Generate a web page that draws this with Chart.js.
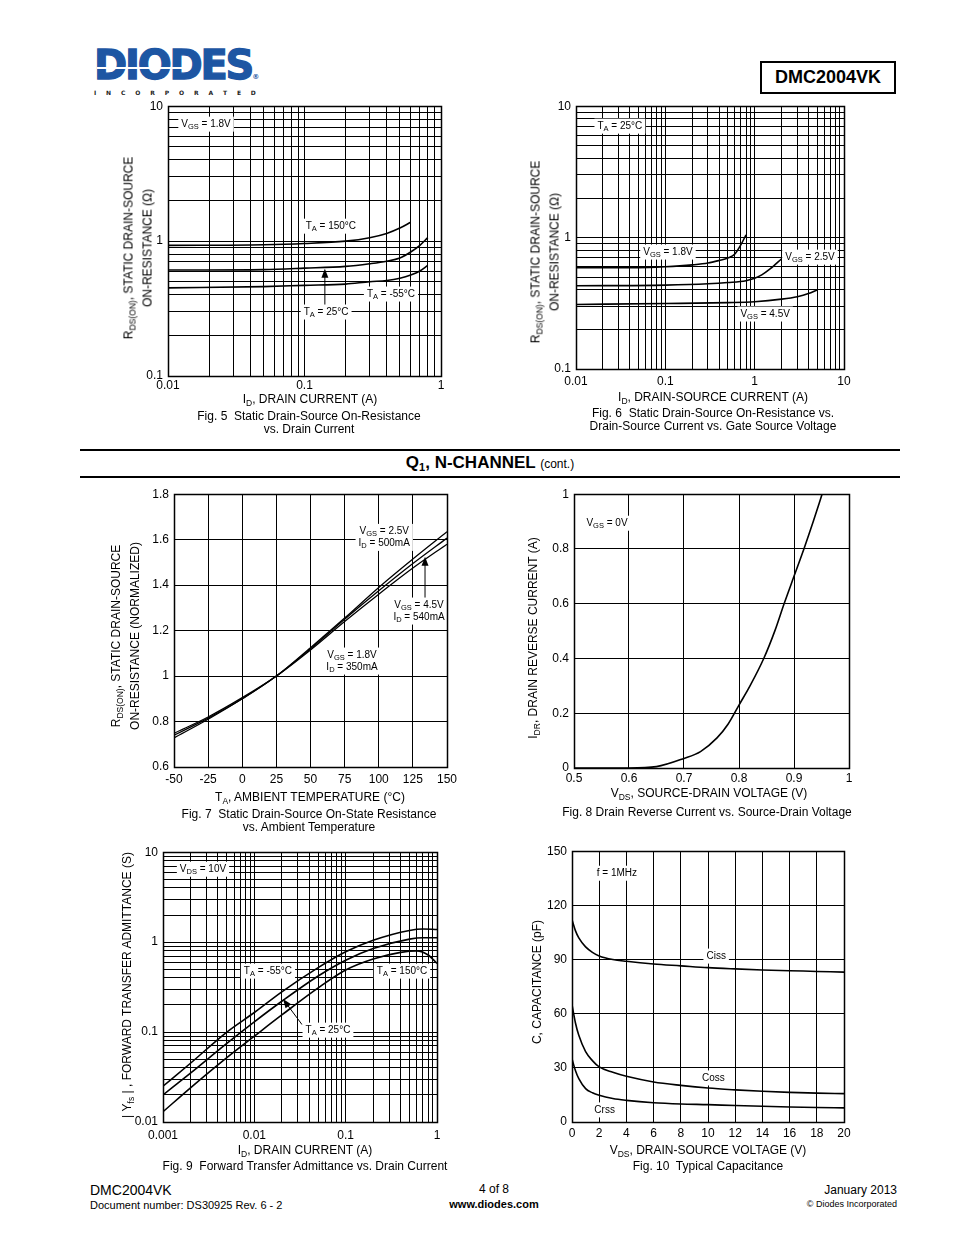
<!DOCTYPE html>
<html>
<head>
<meta charset="utf-8">
<script src="https://cdn.jsdelivr.net/npm/chart.js@4.4.1/dist/chart.umd.min.js"></script>
<style>
body{margin:0;background:#fff;}
#page{position:relative;width:954px;height:1235px;font-family:"Liberation Sans",Arial,sans-serif;color:#000;overflow:hidden;background:#fff}
.t{position:absolute;white-space:nowrap;transform:translate(-50%,-50%);font-size:12px;line-height:14px;text-align:center}
.r{transform:translate(-50%,-50%) rotate(-90deg);line-height:18px}
.s{font-size:8.5px;position:relative;top:3px}
canvas{position:absolute}
.hr{position:absolute;left:80px;width:820px;height:2px;background:#000}
</style>
</head>
<body>
<div id="page">
  <div style="position:absolute;left:94px;top:45px;font:bold 40px/1 'DejaVu Sans',sans-serif;color:#1d56a3;letter-spacing:-2.2px;-webkit-text-stroke:1.3px #1d56a3">DIODES<span style="font-size:7px;letter-spacing:0;-webkit-text-stroke:0">&reg;</span></div>
  <div style="position:absolute;left:97px;top:67px;width:92px;height:2px;background:#fff"></div>
  <div style="position:absolute;left:94px;top:89px;width:162px;display:flex;justify-content:space-between;font:bold 6px 'DejaVu Sans',sans-serif;color:#222">
    <span>I</span><span>N</span><span>C</span><span>O</span><span>R</span><span>P</span><span>O</span><span>R</span><span>A</span><span>T</span><span>E</span><span>D</span>
  </div>
  <div style="position:absolute;left:760px;top:61px;width:132px;height:29px;border:2px solid #000;font:bold 18px/29px 'Liberation Sans',Arial;text-align:center">DMC2004VK</div>

  <div class="hr" style="top:449px"></div>
  <div class="t" style="left:490px;top:463px;font-size:17px;font-weight:bold">Q<span class="s" style="font-size:11px">1</span>, N-CHANNEL <span style="font-size:12px;font-weight:normal">(cont.)</span></div>
  <div class="hr" style="top:476px"></div>

  <canvas id="fig5"></canvas>
  <canvas id="fig6"></canvas>
  <canvas id="fig7"></canvas>
  <canvas id="fig8"></canvas>
  <canvas id="fig9"></canvas>
  <canvas id="fig10"></canvas>

  <!-- Fig 5 texts -->
  <div class="t r" style="left:138px;top:248px">R<span class="s">DS(ON)</span>, STATIC DRAIN-SOURCE<br>ON-RESISTANCE (&Omega;)</div>
  <div class="t" style="left:310px;top:399px">I<span class="s">D</span>, DRAIN CURRENT (A)</div>
  <div class="t" style="left:309px;top:423px;line-height:13px">Fig. 5&nbsp; Static Drain-Source On-Resistance<br>vs. Drain Current</div>

  <!-- Fig 6 texts -->
  <div class="t r" style="left:545px;top:252px">R<span class="s">DS(ON)</span>, STATIC DRAIN-SOURCE<br>ON-RESISTANCE (&Omega;)</div>
  <div class="t" style="left:713px;top:397px">I<span class="s">D</span>, DRAIN-SOURCE CURRENT (A)</div>
  <div class="t" style="left:713px;top:420px;line-height:13px">Fig. 6&nbsp; Static Drain-Source On-Resistance vs.<br>Drain-Source Current vs. Gate Source Voltage</div>

  <!-- Fig 7 texts -->
  <div class="t r" style="left:125px;top:636px">R<span class="s">DS(ON)</span>, STATIC DRAIN-SOURCE<br>ON-RESISTANCE (NORMALIZED)</div>
  <div class="t" style="left:310px;top:797px">T<span class="s">A</span>, AMBIENT TEMPERATURE (&deg;C)</div>
  <div class="t" style="left:309px;top:821px;line-height:13px">Fig. 7&nbsp; Static Drain-Source On-State Resistance<br>vs. Ambient Temperature</div>

  <!-- Fig 8 texts -->
  <div class="t r" style="left:533px;top:638px">I<span class="s">DR</span>, DRAIN REVERSE CURRENT (A)</div>
  <div class="t" style="left:709px;top:793px">V<span class="s">DS</span>, SOURCE-DRAIN VOLTAGE (V)</div>
  <div class="t" style="left:707px;top:812px">Fig. 8 Drain Reverse Current vs. Source-Drain Voltage</div>

  <!-- Fig 9 texts -->
  <div class="t r" style="left:127px;top:985px">|&nbsp;Y<span class="s">fs</span>&nbsp;|&nbsp;, FORWARD TRANSFER ADMITTANCE (S)</div>
  <div class="t" style="left:305px;top:1150px">I<span class="s">D</span>, DRAIN CURRENT (A)</div>
  <div class="t" style="left:305px;top:1166px">Fig. 9&nbsp; Forward Transfer Admittance vs. Drain Current</div>

  <!-- Fig 10 texts -->
  <div class="t r" style="left:537px;top:982px">C, CAPACITANCE (pF)</div>
  <div class="t" style="left:708px;top:1150px">V<span class="s">DS</span>, DRAIN-SOURCE VOLTAGE (V)</div>
  <div class="t" style="left:708px;top:1166px">Fig. 10&nbsp; Typical Capacitance</div>

  <!-- footer -->
  <div style="position:absolute;left:90px;top:1182px;font-size:14px">DMC2004VK</div>
  <div style="position:absolute;left:90px;top:1199px;font-size:11px">Document number: DS30925 Rev. 6 - 2</div>
  <div class="t" style="left:494px;top:1189px;font-size:12px">4 of 8</div>
  <div class="t" style="left:494px;top:1204px;font-size:11px;font-weight:bold">www.diodes.com</div>
  <div style="position:absolute;right:57px;top:1183px;font-size:12px">January 2013</div>
  <div style="position:absolute;right:57px;top:1199px;font-size:9px">&copy; Diodes Incorporated</div>
</div>

<script>
var FONT = '"Liberation Sans", Arial, sans-serif';

/* Fig 5 : RDS(ON) vs ID, VGS = 1.8V */
var f5X150 = [0.01, 0.05, 0.1, 0.2, 0.3, 0.4, 0.5, 0.6];
var f5Y150 = [0.93, 0.94, 0.96, 1.0, 1.06, 1.14, 1.25, 1.38];
var f5X25 = [0.01, 0.05, 0.1, 0.2, 0.3, 0.4, 0.5, 0.6, 0.7, 0.8];
var f5Y25 = [0.61, 0.615, 0.63, 0.65, 0.68, 0.71, 0.75, 0.83, 0.93, 1.06];
var f5XM55 = [0.01, 0.05, 0.1, 0.2, 0.3, 0.4, 0.5, 0.6, 0.7, 0.8];
var f5YM55 = [0.45, 0.46, 0.47, 0.48, 0.50, 0.51, 0.53, 0.56, 0.60, 0.66];
var f5XTicks = [0.01, 0.1, 1];
var f5YTicks = [0.1, 1, 10];

/* Fig 6 : RDS(ON) vs ID at VGS */
var f6X18 = [0.01, 0.05, 0.1, 0.2, 0.3, 0.4, 0.5, 0.6, 0.7, 0.8];
var f6Y18 = [0.59, 0.59, 0.6, 0.62, 0.64, 0.67, 0.7, 0.75, 0.88, 1.05];
var f6X25 = [0.01, 0.1, 0.3, 0.5, 0.8, 1, 1.2, 1.5, 2];
var f6Y25 = [0.43, 0.435, 0.445, 0.455, 0.47, 0.49, 0.52, 0.58, 0.69];
var f6X45 = [0.01, 0.1, 0.5, 1, 2, 3, 4, 5];
var f6Y45 = [0.31, 0.315, 0.32, 0.325, 0.34, 0.355, 0.375, 0.4];
var f6XTicks = [0.01, 0.1, 1, 10];
var f6YTicks = [0.1, 1, 10];

/* Fig 7 : normalized RDS(ON) vs TA */
var f7X = [-50, -25, 0, 25, 50, 75, 100, 125, 150];
var f7Y25V = [0.728, 0.81, 0.9, 1.0, 1.125, 1.255, 1.39, 1.515, 1.635];
var f7Y45V = [0.74, 0.815, 0.9, 1.0, 1.12, 1.25, 1.375, 1.495, 1.607];
var f7Y18V = [0.748, 0.82, 0.905, 1.0, 1.115, 1.24, 1.36, 1.475, 1.58];
var f7XTicks = [-50, -25, 0, 25, 50, 75, 100, 125, 150];
var f7YTicks = [0.6, 0.8, 1, 1.2, 1.4, 1.6, 1.8];

/* Fig 8 : IDR vs VSD */
var f8X = [0.5, 0.6, 0.65, 0.7, 0.73, 0.76, 0.78, 0.8, 0.82, 0.845, 0.865, 0.882, 0.9, 0.918, 0.935, 0.951];
var f8Y = [0, 0, 0.005, 0.035, 0.06, 0.11, 0.16, 0.23, 0.3, 0.4, 0.5, 0.6, 0.7, 0.8, 0.9, 1.0];
var f8XTicks = [0.5, 0.6, 0.7, 0.8, 0.9, 1];
var f8YTicks = [0, 0.2, 0.4, 0.6, 0.8, 1];

/* Fig 9 : |Yfs| vs ID */
var f9X = [0.001, 0.002, 0.005, 0.01, 0.02, 0.05, 0.1, 0.2, 0.5, 0.7, 1];
var f9YM55 = [0.025, 0.045, 0.1, 0.165, 0.28, 0.52, 0.78, 1.05, 1.35, 1.4, 1.38];
var f9Y25 = [0.02, 0.035, 0.075, 0.13, 0.22, 0.42, 0.63, 0.85, 1.08, 1.12, 1.12];
var f9X150 = [0.001, 0.002, 0.005, 0.01, 0.02, 0.05, 0.1, 0.2, 0.4, 0.6, 0.8, 1];
var f9Y150 = [0.013, 0.024, 0.052, 0.09, 0.155, 0.31, 0.49, 0.65, 0.77, 0.8, 0.72, 0.58];
var f9XTicks = [0.001, 0.01, 0.1, 1];
var f9YTicks = [0.01, 0.1, 1, 10];

/* Fig 10 : capacitance vs VDS */
var f10X = [0, 0.25, 0.5, 1, 1.5, 2, 3, 4, 6, 8, 10, 12, 14, 16, 18, 20];
var f10Ciss = [112, 106, 102, 97, 94, 92, 90, 89, 87.5, 86.5, 85.5, 84.8, 84.2, 83.8, 83.4, 83];
var f10Coss = [65, 55, 48, 39, 34, 30.5, 27.5, 25.3, 22.2, 20.3, 18.8, 17.8, 17, 16.4, 16, 15.7];
var f10Crss = [35, 28.5, 24, 18.5, 16.2, 14.8, 13, 12, 10.7, 10, 9.6, 9.1, 8.7, 8.3, 8, 7.8];
var f10XTicks = [0, 2, 4, 6, 8, 10, 12, 14, 16, 18, 20];
var f10YTicks = [0, 30, 60, 90, 120, 150];

// gridlines 1..9 per decade for log axes
function logGrid(min, max) {
  var out = [];
  for (var e = Math.round(Math.log10(min)); e < Math.round(Math.log10(max)); e++) {
    var p = Math.pow(10, e);
    for (var k = 1; k <= 9; k++) out.push(+(k * p).toPrecision(6));
  }
  out.push(max);
  return out;
}

function isLabel(v, labels) {
  return labels.some(function (l) { return l === v || Math.abs(l - v) < Math.abs(l) * 1e-6; });
}

function axis(type, labels, pos, size, pad) {
  var min = labels[0], max = labels[labels.length - 1];
  return {
    type: type, min: min, max: max, position: pos,
    grid: { color: '#000', lineWidth: 1, drawTicks: false },
    border: { display: false },
    ticks: {
      autoSkip: false, maxRotation: 0, color: '#000', padding: pad,
      font: { family: FONT, size: 12 },
      callback: function (v) { return isLabel(v, labels) ? String(+v.toPrecision(6)) : ''; }
    },
    afterBuildTicks: function (s) {
      var vals = type === 'logarithmic' ? logGrid(min, max) : labels;
      s.ticks = vals.map(function (v) { return { value: v }; });
    },
    afterFit: function (s) {
      if (pos === 'left') s.width = size; else s.height = size;
    }
  };
}

// split "V_{GS} = 1.8V" into [text, isSub] parts
function parts(str) {
  var out = [], re = /_\{([^}]*)\}/g, last = 0, m;
  while ((m = re.exec(str))) {
    if (m.index > last) out.push([str.slice(last, m.index), 0]);
    out.push([m[1], 1]);
    last = re.lastIndex;
  }
  if (last < str.length) out.push([str.slice(last), 0]);
  return out;
}

function partFont(sub) { return (sub ? '7.5px ' : '10px ') + FONT; }

var notesPlugin = {
  id: 'notes',
  afterDatasetsDraw: function (chart, args, opts) {
    var ctx = chart.ctx, xs = chart.scales.x, ys = chart.scales.y;
    ctx.save();
    (opts.arrows || []).forEach(function (a) {
      var x1 = xs.getPixelForValue(a.x1), y1 = ys.getPixelForValue(a.y1);
      var x2 = xs.getPixelForValue(a.x2), y2 = ys.getPixelForValue(a.y2);
      var ang = Math.atan2(y2 - y1, x2 - x1);
      ctx.strokeStyle = '#000'; ctx.fillStyle = '#000'; ctx.lineWidth = 1;
      ctx.beginPath(); ctx.moveTo(x1, y1); ctx.lineTo(x2 - 6 * Math.cos(ang), y2 - 6 * Math.sin(ang)); ctx.stroke();
      ctx.beginPath();
      ctx.moveTo(x2, y2);
      ctx.lineTo(x2 - 9 * Math.cos(ang) + 3.5 * Math.sin(ang), y2 - 9 * Math.sin(ang) - 3.5 * Math.cos(ang));
      ctx.lineTo(x2 - 9 * Math.cos(ang) - 3.5 * Math.sin(ang), y2 - 9 * Math.sin(ang) + 3.5 * Math.cos(ang));
      ctx.closePath(); ctx.fill();
    });
    (opts.labels || []).forEach(function (l) {
      var cx = xs.getPixelForValue(l.x), cy = ys.getPixelForValue(l.y);
      var lines = l.text.map(parts);
      var widths = lines.map(function (ps) {
        return ps.reduce(function (w, p) { ctx.font = partFont(p[1]); return w + ctx.measureText(p[0]).width; }, 0);
      });
      var lh = 12, bw = Math.max.apply(null, widths) + 6, bh = lines.length * lh + 3;
      ctx.fillStyle = '#fff';
      ctx.fillRect(cx - bw / 2, cy - bh / 2, bw, bh);
      ctx.fillStyle = '#000'; ctx.textBaseline = 'middle'; ctx.textAlign = 'left';
      lines.forEach(function (ps, i) {
        var x = cx - widths[i] / 2, y = cy - bh / 2 + 1.5 + lh * i + lh / 2;
        ps.forEach(function (p) {
          ctx.font = partFont(p[1]);
          ctx.fillText(p[0], x, p[1] ? y + 3 : y);
          x += ctx.measureText(p[0]).width;
        });
      });
    });
    ctx.restore();
  }
};

var framePlugin = {
  id: 'frame',
  afterDraw: function (chart) {
    var a = chart.chartArea, ctx = chart.ctx;
    ctx.save();
    ctx.strokeStyle = '#000'; ctx.lineWidth = 1.5;
    ctx.strokeRect(Math.round(a.left) + 0.5, Math.round(a.top) + 0.5, Math.round(a.right - a.left), Math.round(a.bottom - a.top));
    ctx.restore();
  }
};

function series(xs, ys, w) {
  return {
    data: xs.map(function (x, i) { return { x: x, y: ys[i] }; }),
    borderColor: '#000', borderWidth: w || 1.6, pointRadius: 0, fill: false,
    cubicInterpolationMode: 'monotone'
  };
}

function plot(id, rect, xType, xTicks, yType, yTicks, padX, sets, notes) {
  var cv = document.getElementById(id);
  var L = rect[0], T = rect[1], R = rect[2], B = rect[3];
  cv.width = R - L + 45 + 18;
  cv.height = B - T + 12 + 24;
  cv.style.left = (L - 45) + 'px';
  cv.style.top = (T - 12) + 'px';
  return new Chart(cv, {
    type: 'line',
    data: { datasets: sets },
    options: {
      responsive: false, animation: false,
      layout: { padding: { left: 0, top: 12, right: 18, bottom: 0 } },
      plugins: { legend: { display: false }, tooltip: { enabled: false }, notes: notes },
      scales: {
        x: axis(xType, xTicks, 'bottom', 24, padX),
        y: axis(yType, yTicks, 'left', 45, 5)
      }
    },
    plugins: [notesPlugin, framePlugin]
  });
}

plot('fig5', [168, 106, 441, 376], 'logarithmic', f5XTicks, 'logarithmic', f5YTicks, 2,
  [series(f5X150, f5Y150), series(f5X25, f5Y25), series(f5XM55, f5YM55)],
  {
    labels: [
      { x: 0.019, y: 7.36, text: ['V_{GS} = 1.8V'] },
      { x: 0.156, y: 1.29, text: ['T_{A} = 150\u00B0C'] },
      { x: 0.43, y: 0.405, text: ['T_{A} = -55\u00B0C'] },
      { x: 0.144, y: 0.298, text: ['T_{A} = 25\u00B0C'] }
    ],
    arrows: [{ x1: 0.141, y1: 0.33, x2: 0.141, y2: 0.625 }]
  });

plot('fig6', [576, 106, 844, 369], 'logarithmic', f6XTicks, 'logarithmic', f6YTicks, 5,
  [series(f6X18, f6Y18), series(f6X25, f6Y25), series(f6X45, f6Y45)],
  {
    labels: [
      { x: 0.031, y: 7.05, text: ['T_{A} = 25\u00B0C'] },
      { x: 0.107, y: 0.776, text: ['V_{GS} = 1.8V'] },
      { x: 4.16, y: 0.71, text: ['V_{GS} = 2.5V'] },
      { x: 1.31, y: 0.262, text: ['V_{GS} = 4.5V'] }
    ]
  });

plot('fig7', [174, 494, 447, 767], 'linear', f7XTicks, 'linear', f7YTicks, 5,
  [series(f7X, f7Y25V, 1.3), series(f7X, f7Y45V, 1.3), series(f7X, f7Y18V, 1.3)],
  {
    labels: [
      { x: 104, y: 1.61, text: ['V_{GS} = 2.5V', 'I_{D} = 500mA'] },
      { x: 129.5, y: 1.286, text: ['V_{GS} = 4.5V', 'I_{D} = 540mA'] },
      { x: 80.4, y: 1.066, text: ['V_{GS} = 1.8V', 'I_{D} = 350mA'] }
    ],
    arrows: [{ x1: 133.9, y1: 1.334, x2: 133.9, y2: 1.525 }]
  });

plot('fig8', [574, 494, 849, 768], 'linear', f8XTicks, 'linear', f8YTicks, 3,
  [series(f8X, f8Y)],
  { labels: [{ x: 0.56, y: 0.894, text: ['V_{GS} = 0V'] }] });

plot('fig9', [163, 852, 437, 1122], 'logarithmic', f9XTicks, 'logarithmic', f9YTicks, 6,
  [series(f9X, f9YM55), series(f9X, f9Y25), series(f9X150, f9Y150)],
  {
    labels: [
      { x: 0.00274, y: 6.47, text: ['V_{DS} = 10V'] },
      { x: 0.0141, y: 0.476, text: ['T_{A} = -55\u00B0C'] },
      { x: 0.414, y: 0.476, text: ['T_{A} = 150\u00B0C'] },
      { x: 0.064, y: 0.105, text: ['T_{A} = 25\u00B0C'] }
    ],
    arrows: [{ x1: 0.0333, y1: 0.121, x2: 0.0206, y2: 0.233 }]
  });

plot('fig10', [572, 851, 844, 1122], 'linear', f10XTicks, 'linear', f10YTicks, 4,
  [series(f10X, f10Ciss), series(f10X, f10Coss), series(f10X, f10Crss)],
  {
    labels: [
      { x: 3.3, y: 137.8, text: ['f = 1MHz'] },
      { x: 10.6, y: 91.9, text: ['Ciss'] },
      { x: 10.4, y: 24.4, text: ['Coss'] },
      { x: 2.4, y: 6.7, text: ['Crss'] }
    ]
  });
</script>
</body>
</html>
